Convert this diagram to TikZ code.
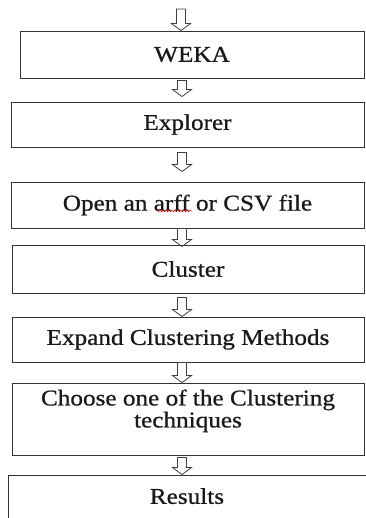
\documentclass[tikz,border=0pt]{standalone}
\usepackage{fontspec}
\setmainfont{Liberation Serif}[FakeStretch=1.12,FakeBold=0.8]
\usetikzlibrary{calc,decorations.pathmorphing}

\tikzset{
  procbox/.style={draw=black!80, line width=0.9pt, rectangle, inner sep=0pt,
    font=\fontsize{22.5}{22}\selectfont, text=black!90, align=center},
  hollow/.style={draw=black!75, line width=0.8pt,
    to path={let \p1=(\tikztostart), \p2=(\tikztotarget) in
      (\x1-4.5pt,\y1) -- (\x1-4.5pt,\y2+7pt) -- (\x1-9.5pt,\y2+7pt) -- (\x2,\y2)
      -- (\x1+9.5pt,\y2+7pt) -- (\x1+4.5pt,\y2+7pt) -- (\x1+4.5pt,\y1) -- cycle}}
}

\begin{document}
\begin{tikzpicture}[x=1pt,y=-1pt]
\useasboundingbox (0,0) rectangle (365,518);
\coordinate (ax) at (182,9);
\node [procbox, minimum width=344pt, minimum height=47pt] (weka) at (192,54.5) {WEKA};
\node [procbox, minimum width=353pt, minimum height=45pt] (explorer) at (187.5,124.5) {Explorer};
\node [procbox, minimum width=353pt, minimum height=46pt] (open) at (187.5,205) {Open an arff or CSV file};
\node [procbox, minimum width=352pt, minimum height=48pt] (cluster) at (188,269) {Cluster};
\node [procbox, minimum width=352pt, minimum height=45pt] (expand) at (188,339.5) {Expand Clustering Methods};
\node [procbox, minimum width=352pt, minimum height=72pt, text depth=21pt] (choose) at (188,419) {Choose one of the Clustering\\techniques};
\node [procbox, minimum width=358pt, minimum height=48pt, text depth=6pt] (results) at (187,499) {Results};
\draw [red, line width=0.5pt, decorate, decoration={snake, amplitude=0.8pt, segment length=3pt}] (156,211) -- (192,211);
\draw [hollow] ([xshift=-1pt]ax) to ([xshift=-1pt]weka.north -| ax);
\draw [hollow] ([yshift=-2pt]weka.south -| ax) to ([yshift=5pt]explorer.north -| ax);
\draw [hollow] ([yshift=-5pt]explorer.south -| ax) to ([yshift=10pt]open.north -| ax);
\draw [hollow] (open.south -| ax) to ([yshift=-2pt]cluster.north -| ax);
\draw [hollow] ([yshift=-4pt]cluster.south -| ax) to (expand.north -| ax);
\draw [hollow] (expand.south -| ax) to (choose.north -| ax);
\draw [hollow] ([yshift=-2pt]choose.south -| ax) to (results.north -| ax);
\end{tikzpicture}
\end{document}
